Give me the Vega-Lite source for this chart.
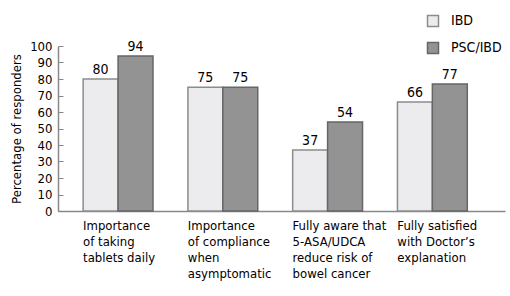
{
  "$schema": "https://vega.github.io/schema/vega-lite/v6.json",
  "width": 447,
  "height": 165,
  "autosize": {"type": "none"},
  "padding": {"left": 58, "top": 46, "right": 5, "bottom": 85},
  "background": "white",
  "config": {
    "view": {"stroke": null},
    "font": "DejaVu Sans Condensed",
    "axis": {"labelFont": "DejaVu Sans Condensed", "titleFont": "DejaVu Sans Condensed", "labelColor": "#000", "titleColor": "#000", "domainColor": "#888", "tickColor": "#888"}
  },
  "data": {
    "values": [
      {"item": "Importance|of taking|tablets daily", "group": "IBD", "value": 80},
      {"item": "Importance|of taking|tablets daily", "group": "PSC/IBD", "value": 94},
      {"item": "Importance|of compliance|when|asymptomatic", "group": "IBD", "value": 75},
      {"item": "Importance|of compliance|when|asymptomatic", "group": "PSC/IBD", "value": 75},
      {"item": "Fully aware that|5-ASA/UDCA|reduce risk of|bowel cancer", "group": "IBD", "value": 37},
      {"item": "Fully aware that|5-ASA/UDCA|reduce risk of|bowel cancer", "group": "PSC/IBD", "value": 54},
      {"item": "Fully satisfied|with Doctor’s|explanation", "group": "IBD", "value": 66},
      {"item": "Fully satisfied|with Doctor’s|explanation", "group": "PSC/IBD", "value": 77}
    ]
  },
  "encoding": {
    "x": {
      "field": "item", "type": "nominal", "sort": null,
      "scale": {"paddingInner": 0.3333, "paddingOuter": 0.3, "align": 0.4},
      "axis": {
        "title": null, "ticks": false, "labelAngle": 0, "labelAlign": "left", "labelBaseline": "top",
        "labelOffset": -35, "labelPadding": 8, "labelFontSize": 13, "labelLineHeight": 16,
        "labelExpr": "split(datum.label, '|')", "domainColor": "#888", "domainWidth": 1.5
      }
    },
    "xOffset": {"field": "group", "type": "nominal", "sort": ["IBD", "PSC/IBD"]},
    "y": {
      "field": "value", "type": "quantitative",
      "scale": {"domain": [0, 100], "nice": false},
      "axis": {
        "title": "Percentage of responders", "titleFontSize": 13, "titleFontWeight": "normal", "titlePadding": 6,
        "values": [0, 10, 20, 30, 40, 50, 60, 70, 80, 90, 100],
        "labelFontSize": 13, "grid": false, "tickSize": -5, "labelPadding": 11, "domainColor": "#888", "domainWidth": 1.5
      }
    }
  },
  "layer": [
    {
      "mark": {"type": "bar", "strokeWidth": 1.5},
      "encoding": {
        "fill": {
          "field": "group", "type": "nominal",
          "scale": {"domain": ["IBD", "PSC/IBD"], "range": ["#ececef", "#939393"]},
          "legend": {
            "title": null, "orient": "none", "legendX": 368, "legendY": -32,
            "symbolType": "square", "symbolSize": 121, "symbolStrokeWidth": 1.5,
            "labelFontSize": 14, "labelOffset": 11, "rowPadding": 9, "padding": 0,
            "labelFont": "DejaVu Sans Condensed", "labelColor": "#000"
          }
        },
        "stroke": {
          "field": "group", "type": "nominal",
          "scale": {"domain": ["IBD", "PSC/IBD"], "range": ["#8c8c8c", "#666666"]},
          "legend": null
        }
      }
    },
    {
      "mark": {"type": "text", "baseline": "alphabetic", "dy": -5, "fontSize": 14, "font": "DejaVu Sans Condensed", "color": "#000"},
      "encoding": {"text": {"field": "value", "type": "quantitative"}}
    }
  ]
}
